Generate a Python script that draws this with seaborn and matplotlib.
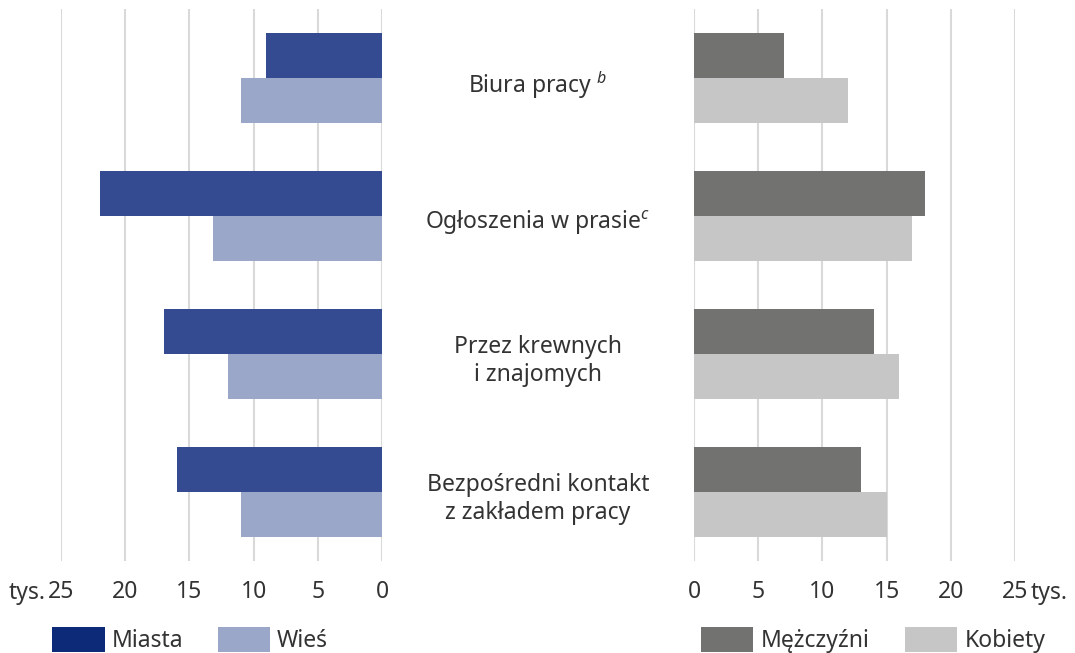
import matplotlib
matplotlib.use('Agg')
import matplotlib.pyplot as plt
import seaborn as sns
import pandas as pd

# data (tys.)
categories = ["Biura pracy $^{\\mathit{b}}$", "Ogłoszenia w prasie$^{\\mathit{c}}$",
              "Przez krewnych\ni znajomych", "Bezpośredni kontakt\nz zakładem pracy"]
miasta = [9, 22, 17, 16]
wies = [11, 13.2, 12, 11]
mezczyzni = [7, 18, 14, 13]
kobiety = [12, 17, 16, 15]
ticks = [0, 5, 10, 15, 20, 25]

sns.set_theme(style="whitegrid")
plt.rcParams['font.family'] = ['Noto Sans', 'DejaVu Sans']
plt.rcParams['mathtext.fontset'] = 'custom'
plt.rcParams['mathtext.rm'] = 'Noto Sans'
plt.rcParams['mathtext.it'] = 'Noto Sans:italic'

TXT = '#333333'
FS = 16.5
W, H = 1075, 653

df_left = pd.DataFrame({
    "cat": categories * 2,
    "val": miasta + wies,
    "grp": ["Miasta"] * 4 + ["Wieś"] * 4,
})
df_right = pd.DataFrame({
    "cat": categories * 2,
    "val": mezczyzni + kobiety,
    "grp": ["Mężczyźni"] * 4 + ["Kobiety"] * 4,
})

fig = plt.figure(figsize=(W / 100, H / 100), dpi=100)
ax_top, ax_bot = 9, 561
ax_l = fig.add_axes([61 / W, (H - ax_bot) / H, 321 / W, (ax_bot - ax_top) / H])
ax_r = fig.add_axes([694 / W, (H - ax_bot) / H, 321 / W, (ax_bot - ax_top) / H])

sns.barplot(data=df_left, x="val", y="cat", hue="grp", orient="h", ax=ax_l,
            palette=["#344B92", "#9AA7C8"], width=0.65, saturation=1, linewidth=0)
sns.barplot(data=df_right, x="val", y="cat", hue="grp", orient="h", ax=ax_r,
            palette=["#727270", "#C5C6C5"], width=0.65, saturation=1, linewidth=0)

for ax in (ax_l, ax_r):
    ax.set_ylim(3.5, -0.5)
    ax.set_xticks(ticks)
    ax.set_xticklabels([str(t) for t in ticks])
    ax.set_yticks([])
    ax.set_xlabel("")
    ax.set_ylabel("")
    ax.patch.set_visible(False)
    ax.grid(axis='y', visible=False)
    ax.grid(axis='x', color='#d9d9d9', linewidth=1.5)
    ax.set_axisbelow(True)
    for s in ax.spines.values():
        s.set_visible(False)
    ax.tick_params(axis='x', length=0, pad=14, labelsize=FS, labelcolor=TXT)

ax_l.set_xlim(25, 0)
ax_r.set_xlim(0, 25)

# category labels in the middle (centre at x = 538 px)
for i, c in enumerate(categories):
    ax_l.annotate(c, xy=(0, i), xycoords='data', xytext=(156 * 0.72, -5),
                  textcoords='offset points', ha='center', va='center',
                  fontsize=FS, color=TXT, linespacing=1.25)

fig.text(46 / W, (H - 593) / H, "tys.", ha='right', va='center', fontsize=FS, color=TXT)
fig.text(1031 / W, (H - 593) / H, "tys.", ha='left', va='center', fontsize=FS, color=TXT)

# legends
leg_y = (ax_bot - 640) / (ax_bot - ax_top)
for ax, x0, colsp in ((ax_l, -0.028, 1.5), (ax_r, 0.021, 1.55)):
    sns.move_legend(ax, loc='center left', bbox_to_anchor=(x0, leg_y), ncol=2,
                    frameon=False, title=None, fontsize=FS, borderpad=0,
                    borderaxespad=0, handlelength=2.3, handleheight=1.3,
                    handletextpad=0.3, columnspacing=colsp)
    for t in ax.get_legend().get_texts():
        t.set_color(TXT)
ax_l.get_legend().legend_handles[0].set_facecolor('#0D2A78')

fig.savefig("out.png", dpi=100, facecolor='white')
